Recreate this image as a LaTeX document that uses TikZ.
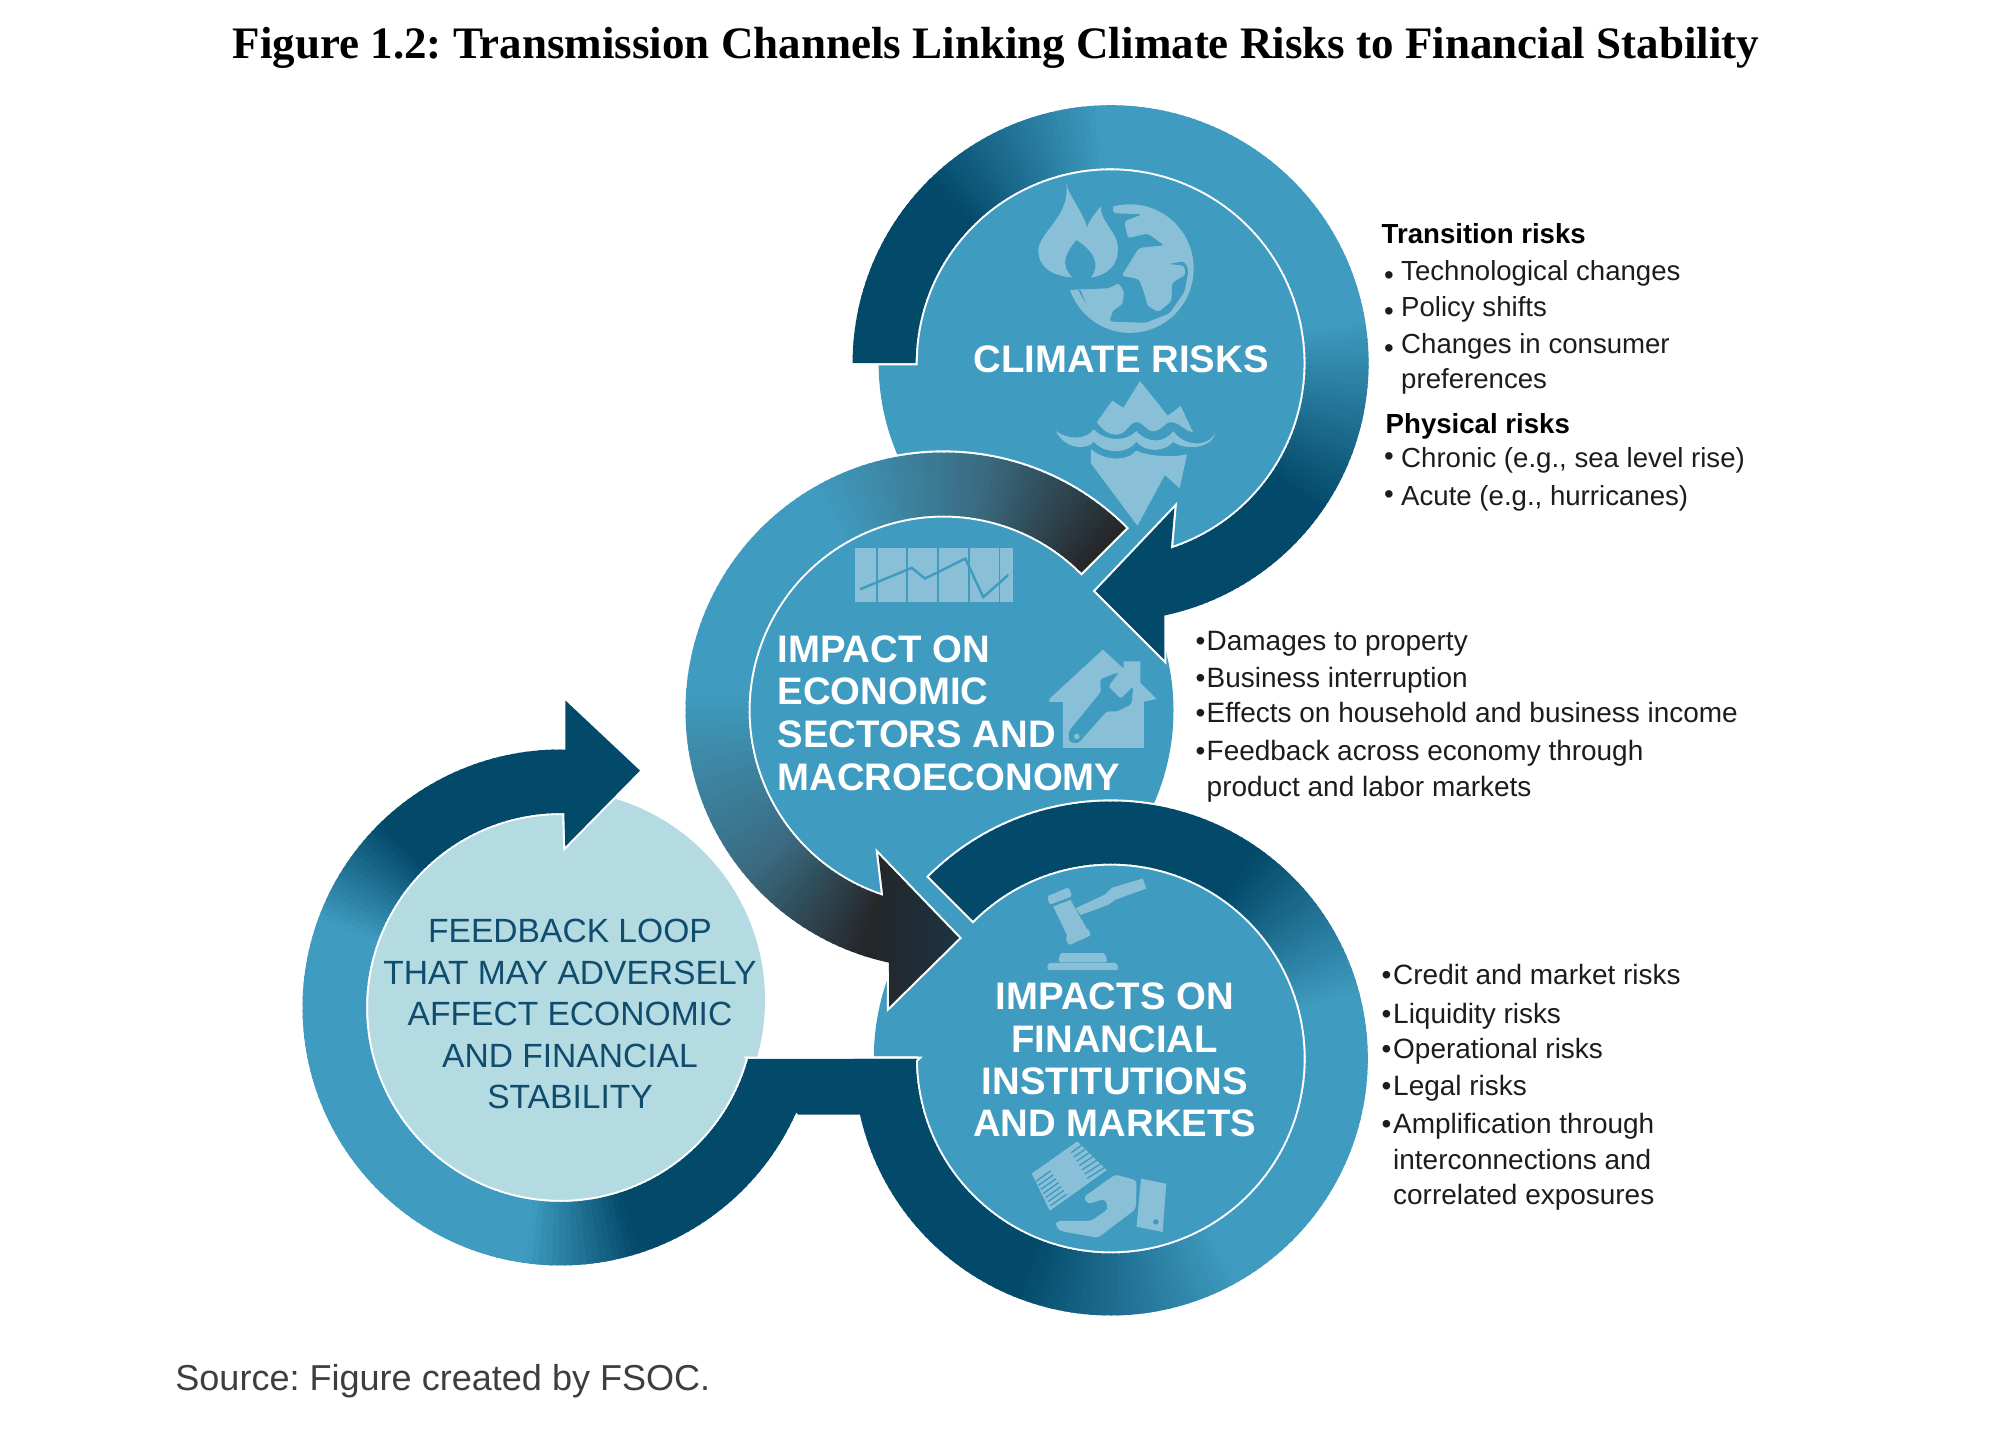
\documentclass[tikz,border=0pt]{standalone}
\usepackage{fontspec}
\setmainfont{Liberation Sans}
\newfontfamily\titlefont{Liberation Serif}
\usetikzlibrary{calc}
\frenchspacing
\definecolor{cl}{HTML}{3F9BBF}
\definecolor{cd}{HTML}{03496A}
\definecolor{ck}{HTML}{252527}
\definecolor{cm}{HTML}{3A6A80}
\definecolor{cp}{HTML}{B4DBE1}
\definecolor{ci}{HTML}{8AC0D7}
\definecolor{ct}{HTML}{0F4C6E}
\definecolor{cb}{HTML}{1C1C1C}
\definecolor{chd}{HTML}{1B3442}
\tikzset{
  halo/.style={draw=white,line width=1.2pt,line join=miter},
  txt/.style={anchor=base west,inner sep=0pt,text=cb,font=\fontsize{7.85}{10}\selectfont},
  txtm/.style={txt,font=\fontsize{7.95}{10}\selectfont},
  txtb/.style={txt,font=\fontsize{7.85}{10}\selectfont\bfseries,text=black},
  lab/.style={inner sep=0pt,text=white,font=\fontsize{10.9}{12}\selectfont\bfseries},
  fb/.style={anchor=base,inner sep=0pt,text=ct,font=\fontsize{9.55}{12}\selectfont},
  icon/.style={fill=ci},
  iconbg/.style={fill=cl},
}
\newcommand{\gradarc}[7]{%
  \pgfmathtruncatemacro{\nseg}{max(1,round(abs(#5-(#4))/1.5))}%
  \pgfmathsetmacro{\dang}{((#5)-(#4))/\nseg}%
  \foreach \i in {1,...,\nseg}{%
    \pgfmathsetmacro{\aa}{(#4)+(\i-1)*\dang}%
    \pgfmathsetmacro{\ab}{\aa+1.35*\dang}%
    \pgfmathsetmacro{\tmix}{100*(\i-0.5)/\nseg}%
    \fill[color={#7!\tmix!#6}] ($(#1)+(\aa:#2)$) arc[start angle=\aa,end angle=\ab,radius=#2]
      -- ($(#1)+(\ab:#3)$) arc[start angle=\ab,end angle=\aa,radius=#3] -- cycle;
  }%
}
\begin{document}
\begin{tikzpicture}[x=0.01cm,y=0.01cm]
\useasboundingbox (0,0) rectangle (2000,1429);
\begin{scope}[shift={(0,1429)},yscale=-1]
  \coordinate (c1) at (1110.6,363.2);
  \coordinate (c2) at (943.5,710.5);
  \coordinate (c3) at (1110.8,1058.5);
  \coordinate (c4) at (560.5,1007.5);
  \coordinate (c4p) at (555,1000);
  \coordinate (a1ub) at (1174.4,507.9);
  \coordinate (a1tip) at (1095.6,591);
  \coordinate (a1lb) at (1164.3,659.6);
  \coordinate (a2ub) at (878.3,854.2);
  \coordinate (a2tip) at (959,938);
  \coordinate (a2lb) at (889,1007);
  \coordinate (a4ub) at (565.3,700.4);
  \coordinate (a4tip) at (640,770.6);
  \coordinate (a4lb) at (565.3,846.5);
  \coordinate (bnd1) at (748.3,1058.8);
  \coordinate (bnd2) at (917.5,1058.8);
  \coordinate (bnd3) at (859.8,1114.7);
  \coordinate (bnd4) at (798.2,1114.7);
\end{scope}
% discs
\fill[cl] (c1) circle[radius=232];
\fill[cl] (c2) circle[radius=230];
\fill[cl] (c3) circle[radius=237];
\fill[cp] (c4p) circle[radius=210];
% halos
\draw[halo] ($(c2)+(45:258)$) arc[start angle=45,end angle=257.8,radius=258] -- (a2lb) -- (a2tip) -- (a2ub) -- ($(c2)+(252:195)$) arc[start angle=252,end angle=45,radius=195] -- cycle;
\draw[halo] ($(c1)+(180:258)$) arc[start angle=180,end angle=-78,radius=258] -- (a1lb) -- (a1tip) -- (a1ub) -- ($(c1)+(-72:195)$) arc[start angle=-72,end angle=180,radius=195] -- cycle;
\draw[halo] ($(c3)+(135:257)$) arc[start angle=135,end angle=-180,radius=257] -- ($(c3)+(-180:195)$) arc[start angle=-180,end angle=135,radius=195] -- cycle;
\draw[halo] ($(c4)+(-15.3:258)$) arc[start angle=-15.3,end angle=-271.1,radius=258] -- (a4ub) -- (a4tip) -- (a4lb) -- ($(c4)+(-271.1:194.5)$) arc[start angle=-271.1,end angle=-15.3,radius=194.5] -- cycle;
\draw[halo] (bnd1) -- (bnd2) -- (bnd3) -- (bnd4) -- cycle;
% ring 2 (grey-black)
\gradarc{c2}{258}{195}{45}{80}{ck}{cm}
\gradarc{c2}{258}{195}{80}{120}{cm}{cl}
\gradarc{c2}{258}{195}{120}{175}{cl}{cl}
\gradarc{c2}{258}{195}{175}{220}{cl}{cm}
\gradarc{c2}{258}{195}{220}{252}{cm}{ck}
\shade[left color=ck,right color=chd] ($(c2)+(252:195)$) -- (a2ub) -- (a2tip) -- (a2lb) -- ($(c2)+(257.8:258)$) arc[start angle=257.8,end angle=252,radius=258] -- cycle;
% ring 1
\gradarc{c1}{258}{195}{180}{135}{cd}{cd}
\gradarc{c1}{258}{195}{135}{92}{cd}{cl}
\gradarc{c1}{258}{195}{92}{10}{cl}{cl}
\gradarc{c1}{258}{195}{10}{-35}{cl}{cd}
\gradarc{c1}{258}{195}{-35}{-72}{cd}{cd}
\fill[cd] ($(c1)+(-72:195)$) -- (a1ub) -- (a1tip) -- (a1lb) -- ($(c1)+(-78:258)$) arc[start angle=-78,end angle=-72,radius=258] -- cycle;
% ring 3
\gradarc{c3}{257}{195}{135}{55}{cd}{cd}
\gradarc{c3}{257}{195}{55}{15}{cd}{cl}
\gradarc{c3}{257}{195}{15}{-60}{cl}{cl}
\gradarc{c3}{257}{195}{-60}{-112}{cl}{cd}
\gradarc{c3}{257}{195}{-112}{-179.4}{cd}{cd}
% ring 4
\gradarc{c4}{258}{194.5}{-15.3}{-72}{cd}{cd}
\gradarc{c4}{258}{194.5}{-72}{-98}{cd}{cl}
\gradarc{c4}{258}{194.5}{-98}{-200}{cl}{cl}
\gradarc{c4}{258}{194.5}{-200}{-226}{cl}{cd}
\gradarc{c4}{258}{194.5}{-226}{-271.1}{cd}{cd}
\fill[cd] ($(c4)+(-271.1:194.5)$) -- (a4lb) -- (a4tip) -- (a4ub) -- ($(c4)+(-271.1:258)$) -- cycle;
\fill[cd] (bnd1) -- (bnd2) -- (bnd3) -- (bnd4) -- cycle;
\begin{scope}[shift={(0,1429)},yscale=-1]
% globe & flame
\begin{scope}[shift={(820,90)},xscale=0.36996,yscale=0.35714]
  \fill[icon] (838,500) ellipse[x radius=172,y radius=180];
  \fill[iconbg,rounded corners=0.8pt] (640,300)--(792,300)--(792,345)--(870,348)--(822,368)--(832,415)--(885,402)--(930,435)--(862,442)--(815,520)--(862,530)--(878,575)--(885,605)--(915,622)--(950,592)--(952,540)--(988,518)--(985,492)--(942,487)--(985,480)--(996,505)--(985,565)--(945,625)--(880,652)--(782,648)--(792,618)--(818,600)--(822,565)--(808,540)--(780,555)--(672,560)--(640,540)--cycle;
  \fill[iconbg] (698,560)--(720,600)--(705,562)--cycle;
  \fill[icon] (665,262) .. controls (675,300) and (710,340) .. (722,385) .. controls (730,360) and (745,345) .. (760,325) .. controls (755,370) and (810,400) .. (805,450) .. controls (805,490) and (775,520) .. (732,525) .. controls (760,490) and (740,450) .. (693,420) .. controls (660,460) and (650,490) .. (682,525) .. controls (620,520) and (590,490) .. (590,450) .. controls (590,400) and (680,350) .. (665,262) -- cycle;
  % iceberg
  \fill[icon] (748,930)--(790,870)--(820,890)--(865,815)--(940,912)--(975,885)--(1008,958) .. controls (985,955) and (970,930) .. (950,930) .. controls (930,930) and (925,955) .. (900,955) .. controls (880,955) and (875,930) .. (855,930) .. controls (835,930) and (830,965) .. (800,965) .. controls (775,965) and (760,945) .. (748,930) -- cycle;
  \fill[icon] (638,955) .. controls (670,980) and (720,980) .. (740,950) .. controls (770,985) and (830,985) .. (855,955) .. controls (885,990) and (930,990) .. (955,955) .. controls (985,1000) and (1050,1000) .. (1068,960) .. controls (1060,1005) and (985,1010) .. (955,985) .. controls (930,1015) and (880,1015) .. (855,985) .. controls (830,1020) and (770,1020) .. (740,985) .. controls (720,1010) and (660,1005) .. (638,955) -- cycle;
  \fill[icon] (732,1005) .. controls (770,1040) and (830,1040) .. (855,1010) .. controls (885,1025) and (950,1030) .. (992,1020) -- (972,1115) -- (932,1078) -- (858,1220) -- (732,1045) -- cycle;
\end{scope}
% chart and house
\begin{scope}[shift={(660,440)},scale=0.35714]
  \fill[icon] (547,303) rectangle (987,453);
  \foreach \vx in {607,692,778,865,950} \draw[cl,line width=0.45pt] (\vx,303) -- (\vx,453);
  \draw[cl,line width=0.7pt] (560,418)--(705,358)--(742,388)--(855,332)--(905,440)--(975,378);
  \fill[icon] (1090,725)--(1240,587)--(1298,640)--(1298,620)--(1345,620)--(1345,680)--(1390,725)--(1355,733)--(1355,862)--(1128,862)--(1128,733)--(1090,733)--cycle;
  \fill[iconbg,rounded corners=0.8pt] (1145,815)--(1235,705)--(1232,670)--(1285,650)--(1255,690)--(1290,725)--(1325,690)--(1320,740)--(1280,760)--(1250,760)--(1170,850)--(1145,845)--cycle;
  \fill[icon] (1167,830) circle[radius=8];
\end{scope}
% gavel and money
\begin{scope}[shift={(850,800)},xscale=0.34439,yscale=0.33804]
  \fill[icon] (590,315)--(640,295)--(690,385)--(635,410)--cycle;
  \fill[icon,rounded corners=0.5pt] (572,285)--(635,258)--(645,285)--(580,310)--cycle;
  \fill[icon,rounded corners=0.5pt] (625,405)--(690,378)--(700,400)--(635,430)--cycle;
  \fill[icon] (655,320)--(740,280)--(760,260)--(850,232)--(860,262)--(770,295)--(750,310)--(670,340)--cycle;
  \fill[icon,rounded corners=0.5pt] (605,480)--(610,453)--(740,453)--(748,480)--cycle;
  \fill[icon,rounded corners=0.5pt] (572,503)--(575,482)--(775,482)--(780,503)--cycle;
  \fill[icon] (528,1105)--(660,1010)--(745,1095)--(580,1215)--cycle;
  \foreach \k in {0,1,2,3,4,5,6} {
    \draw[cl,line width=0.4pt] ({540+\k*7},{1128+\k*12}) -- ({590+\k*7},{1092+\k*12});
    \draw[cl,line width=0.4pt] ({640+\k*7.8},{1045+\k*12.6}) -- ({672+\k*11},{1022+\k*11});
  }
  \fill[icon] (575,1085)--(640,1040)--(695,1130)--(635,1175)--cycle;
  \fill[icon,rounded corners=1pt] (600,1245)--(700,1245)--(750,1210)--(740,1180)--(690,1195)--(678,1175)--(770,1108)--(832,1125)--(830,1210)--(720,1295)--(610,1275)--(597,1260)--cycle;
  \fill[icon] (845,1120)--(918,1135)--(908,1278)--(832,1262)--cycle;
  \fill[iconbg] (888,1248) circle[radius=8];
\end{scope}
% title and source
\node[anchor=base,inner sep=0pt,font=\titlefont\bfseries\fontsize{12.8}{14}\selectfont,text=black] (title) at (996,58.7) {Figure 1.2: Transmission Channels Linking Climate Risks to Financial Stability};
\node[txt,font=\fontsize{10.25}{12}\selectfont,text=cb!85!white] (source) at (174.7,1390) {Source: Figure created by FSOC.};
% circle labels
\node[lab,anchor=base] (lclimate) at (1121,372.4) {CLIMATE RISKS};
\node[lab,anchor=base west] (li1) at (776.8,662) {IMPACT ON};
\node[lab,anchor=base west] (li2) at (776.8,704) {ECONOMIC};
\node[lab,anchor=base west] (li3) at (776.8,747.4) {SECTORS AND};
\node[lab,anchor=base west] (li4) at (776.8,790.8) {MACROECONOMY};
\node[lab,anchor=base] (lf1) at (1114.8,1009) {IMPACTS ON};
\node[lab,anchor=base] (lf2) at (1114.8,1052) {FINANCIAL};
\node[lab,anchor=base] (lf3) at (1114.8,1094.4) {INSTITUTIONS};
\node[lab,anchor=base] (lf4) at (1114.8,1136.5) {AND MARKETS};
\node[fb] (fb1) at (570,942.6) {FEEDBACK LOOP};
\node[fb] (fb2) at (570,984.7) {THAT MAY ADVERSELY};
\node[fb] (fb3) at (570,1025.5) {AFFECT ECONOMIC};
\node[fb] (fb4) at (570,1067.6) {AND FINANCIAL};
\node[fb] (fb5) at (570,1108.4) {STABILITY};
% block 1
\node[txtb] (t0) at (1381,243.6) {Transition risks};
\node[txt] (tb1) at (1383.5,285) {•}; \node[txt] (t1) at (1400.5,280.6) {Technological changes};
\node[txt] (tb2) at (1383.5,320) {•}; \node[txt] (t2) at (1400.5,316) {Policy shifts};
\node[txt] (tb3) at (1383.5,358) {•}; \node[txt] (t3) at (1400.5,353.3) {Changes in consumer};
\node[txt] (t4) at (1400.5,388.5) {preferences};
\node[txtb] (p0) at (1385,433.2) {Physical risks};
\node[txt] (pb1) at (1383.5,465) {•}; \node[txt] (p1) at (1400.5,467.3) {Chronic (e.g., sea level rise)};
\node[txt] (pb2) at (1383.5,503) {•}; \node[txt] (p2) at (1400.5,505) {Acute (e.g., hurricanes)};
% block 2
\node[txtm] (db1) at (1195,650.5) {•}; \node[txtm] (d1) at (1206,650.5) {Damages to property};
\node[txtm] (db2) at (1195,687.5) {•}; \node[txtm] (d2) at (1206,687.5) {Business interruption};
\node[txtm] (db3) at (1195,722) {•}; \node[txtm] (d3) at (1206,722) {Effects on household and business income};
\node[txtm] (db4) at (1195,760) {•}; \node[txtm] (d4) at (1206,760) {Feedback across economy through};
\node[txtm] (d5) at (1206,796) {product and labor markets};
% block 3
\node[txtm] (mb1) at (1381,984.5) {•}; \node[txtm] (m1) at (1392.5,984.5) {Credit and market risks};
\node[txtm] (mb2) at (1381,1023) {•}; \node[txtm] (m2) at (1392.5,1023) {Liquidity risks};
\node[txtm] (mb3) at (1381,1058.5) {•}; \node[txtm] (m3) at (1392.5,1058.5) {Operational risks};
\node[txtm] (mb4) at (1381,1095.5) {•}; \node[txtm] (m4) at (1392.5,1095.5) {Legal risks};
\node[txtm] (mb5) at (1381,1133.5) {•}; \node[txtm] (m5) at (1392.5,1133.5) {Amplification through};
\node[txtm] (m6) at (1392.5,1169) {interconnections and};
\node[txtm] (m7) at (1392.5,1204.5) {correlated exposures};
\end{scope}
\end{tikzpicture}
\end{document}
